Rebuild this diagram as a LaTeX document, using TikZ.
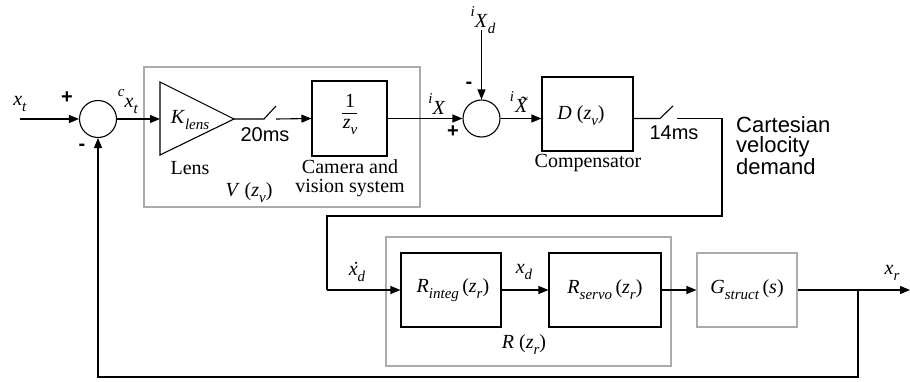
\documentclass[tikz,border=0pt]{standalone}
\usepackage{fontspec}
\setmainfont{Liberation Serif}
\newfontfamily\arial{Liberation Sans}
\usetikzlibrary{arrows.meta}
\newcommand\subsz{\fontsize{15}{15}\selectfont}
\newcommand\vsub[2]{\textit{#1}\raisebox{-0.3em}{\subsz\textit{#2}}}
\newcommand\vpre[1]{\raisebox{0.55em}{\subsz\textit{#1}}}
\newcommand\tildeX{\rlap{\raisebox{0.1em}{\hspace{0.24em}\textit{\char"02DC}}}\textit{X}}
\newcommand\dotx{\rlap{\hspace{0.14em}\textit{\char"02D9}}\textit{x}}
\begin{document}
\begin{tikzpicture}[x=1pt,y=-1pt,
  every node/.style={font=\fontsize{20}{22}\selectfont, inner sep=0pt},
  ln/.style={line width=1.1pt},
  arr/.style={ln,-{Triangle[length=10pt,width=8pt]}},
  sumc/.style={circle,draw,line width=1.1pt,minimum size=37pt},
  blk/.style={rectangle,draw,line width=1.1pt},
  gblk/.style={rectangle,draw=black!33,line width=1.1pt},
  sans/.style={font=\arial\fontsize{20}{22}\selectfont},
  sanslab/.style={font=\arial\fontsize{22}{20.5}\selectfont, align=left}]
\useasboundingbox (0,0) rectangle (910,381);
% grey frames
\node[gblk,minimum width=276pt,minimum height=140pt] (vbox) at (282,137) {};
\node[gblk,minimum width=285pt,minimum height=129pt] (rbox) at (528.5,301.5) {};
% summing junctions
\node[sumc] (s1) at (98,119) {};
\node[sumc] (s2) at (481.5,118.5) {};
% input
\coordinate (in) at (20,119);
\draw[arr] (in) -- (s1);
\node (xt) at (20,104) {\vsub{x}{t}};
\node[sans] (p1) at (67,98) {\textbf{+}};
\node[sans] (m1) at (82,147) {\textbf{-}};
\node (cxt) at (128,102) {\vpre{c}\vsub{x}{t}};
% lens triangle
\coordinate (k1) at (160,82);
\coordinate (k2) at (160,155);
\coordinate (ka) at (234,119);
\coordinate (kin) at (160,119);
\draw[ln] (k1) -- (ka) -- (k2) -- cycle;
\draw[arr] (s1) -- (kin);
\node (klens) at (190,120) {\vsub{K}{lens}};
\node (lens) at (190,168) {Lens};
\node (vz) at (249,193) {\textit{V} (\vsub{z}{v})};
% switch 20ms
\coordinate (sw1a) at (264,119);
\coordinate (sw1b) at (276,106);
\coordinate (sw1c) at (276,119);
\draw[ln] (ka) -- (sw1a) -- (sw1b);
\node[sans] (t20) at (265,135) {20ms};
% camera block
\node[blk,minimum width=75pt,minimum height=75pt] (cam) at (349.5,118.5) {};
\draw[arr] (sw1c) -- (cam.west);
\node (one) at (350,101) {1};
\coordinate (fb1) at (342,113);
\coordinate (fb2) at (357,113);
\draw[line width=0.8pt] (fb1) -- (fb2);
\node (zv) at (350,127) {\vsub{z}{v}};
\node[align=center,font=\fontsize{20}{19}\selectfont] (camlab) at (350,178) {Camera and\\vision system};
% to second sum
\draw[arr] (cam) -- (s2);
\node (ix) at (437,104) {\vpre{i}\textit{X}};
\coordinate (xdtop) at (481.5,30);
\draw[arr] (xdtop) -- (s2);
\node (ixd) at (483,20) {\vpre{i}\vsub{X}{d}};
\node[sans] (m2) at (469,85) {\textbf{-}};
\node[sans] (p2) at (453,132) {\textbf{+}};
\node (ixt) at (519,102) {\vpre{i}\hspace{1pt}\tildeX};
% compensator
\node[blk,minimum width=91pt,minimum height=74pt] (D) at (587.5,114) {};
\draw[arr] (s2) -- (s2 -| D.west);
\node (dz) at (581,116) {\textit{D} (\vsub{z}{v})};
\node (comp) at (588,163) {Compensator};
% switch 14ms
\coordinate (sw2a) at (660,118.5);
\coordinate (sw2b) at (673,106);
\coordinate (sw2c) at (677,118.5);
\draw[ln] (s2 -| D.east) -- (sw2a) -- (sw2b);
\node[sans] (t14) at (674,133) {14ms};
\node[sanslab,anchor=north west] (cvd) at (736,116) {Cartesian\\velocity\\demand};
% route down to R
\coordinate (c1) at (722,118.5);
\coordinate (c2) at (722,216);
\coordinate (c3) at (327,216);
\coordinate (c4) at (327,290);
\node[blk,minimum width=100pt,minimum height=74pt] (Rint) at (451,290) {};
\node[blk,minimum width=112pt,minimum height=74pt] (Rser) at (605,290) {};
\node[gblk,minimum width=100pt,minimum height=74pt] (G) at (747,290) {};
\draw[ln] (sw2c) -- (c1) -- (c2) -- (c3) -- (c4);
\draw[arr] (c4) -- (Rint.west);
\node (xdd) at (357,272) {\dotx\raisebox{-0.3em}{\subsz\textit{d}}};
\node (rint) at (453,290) {\vsub{R}{integ}\,(\vsub{z}{r})};
\draw[arr] (Rint) -- (Rser);
\node (xd) at (524,272) {\vsub{x}{d}};
\node (rser) at (605,290) {\vsub{R}{servo}\,(\vsub{z}{r})};
\node (rz) at (524,345) {\textit{R} (\vsub{z}{r})};
\draw[arr] (Rser) -- (G);
\node (gs) at (747,290) {\vsub{G}{struct}\,(\textit{s})};
% output and feedback
\coordinate (out) at (910,290);
\coordinate (br) at (858,290);
\draw[arr] (G) -- (out);
\node (xr) at (892,273) {\vsub{x}{r}};
\coordinate (f1) at (858,377);
\coordinate (f2) at (98,377);
\draw[arr] (br) -- (f1) -- (f2) -- (s1);
\end{tikzpicture}
\end{document}
